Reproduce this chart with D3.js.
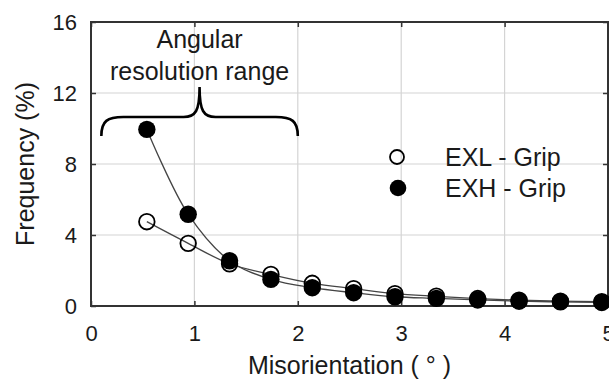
<!DOCTYPE html>
<html>
<head>
<meta charset="utf-8">
<script src="https://cdn.jsdelivr.net/npm/d3@7"></script>
<style>
  html, body { margin: 0; padding: 0; background: #fff; }
  svg { display: block; }
  text { font-family: "Liberation Sans", Arial, sans-serif; fill: #1a1a1a; }
</style>
</head>
<body>
<svg id="chart" width="609" height="383"></svg>
<script>
// ---- data ----
const misorientation = [0.54, 0.94, 1.34, 1.74, 2.14, 2.54, 2.94, 3.34, 3.74, 4.14, 4.54, 4.94];
const exlGrip = [4.75, 3.53, 2.38, 1.78, 1.28, 0.98, 0.70, 0.55, 0.42, 0.33, 0.27, 0.24];
const exhGrip = [9.95, 5.17, 2.55, 1.50, 1.03, 0.75, 0.52, 0.43, 0.34, 0.27, 0.23, 0.20];
const xTicks = [0, 1, 2, 3, 4, 5];
const yTicks = [0, 4, 8, 12, 16];
const seriesNames = ["EXL - Grip", "EXH - Grip"];
const xTitle = "Misorientation ( ° )";
const yTitle = "Frequency (%)";
const annotation = ["Angular", "resolution range"];
const bracketRange = [0.1, 2.0];

// ---- layout ----
const svg = d3.select("#chart");
const L = 91, R = 608, T = 22, B = 306;
const x = d3.scaleLinear().domain([0, 5]).range([L, R]);
const y = d3.scaleLinear().domain([0, 16]).range([B, T]);

// grid
svg.append("g").selectAll("line").data(xTicks.slice(1, -1)).join("line")
  .attr("x1", d => x(d)).attr("x2", d => x(d)).attr("y1", T).attr("y2", B)
  .attr("stroke", "#d4d4d4").attr("stroke-width", 1.2);
svg.append("g").selectAll("line").data(yTicks.slice(1, -1)).join("line")
  .attr("y1", d => y(d)).attr("y2", d => y(d)).attr("x1", L).attr("x2", R)
  .attr("stroke", "#d4d4d4").attr("stroke-width", 1.2);

// axes with inward ticks
const axisColor = "#333";
function styleAxis(g) {
  g.select(".domain").remove();
  g.selectAll(".tick line").attr("stroke", axisColor).attr("stroke-width", 1.5);
}
svg.append("g").attr("transform", `translate(0,${B})`)
  .call(d3.axisBottom(x).tickValues(xTicks).tickSize(-5).tickPadding(19).tickFormat(d3.format("d")))
  .call(styleAxis)
  .call(g => g.selectAll("text").attr("font-size", 22).attr("dy", "0.71em").attr("fill", "#1a1a1a")
     .attr("font-family", "Liberation Sans, Arial, sans-serif"));
svg.append("g").attr("transform", `translate(0,${T})`)
  .call(d3.axisTop(x).tickValues(xTicks).tickSize(-5).tickFormat(""))
  .call(styleAxis);
svg.append("g").attr("transform", `translate(${L},0)`)
  .call(d3.axisLeft(y).tickValues(yTicks).tickSize(-5).tickPadding(14).tickFormat(d3.format("d")))
  .call(styleAxis)
  .call(g => g.selectAll("text").attr("font-size", 22).attr("fill", "#1a1a1a")
     .attr("font-family", "Liberation Sans, Arial, sans-serif"));
svg.append("g").attr("transform", `translate(${R},0)`)
  .call(d3.axisRight(y).tickValues(yTicks).tickSize(-5).tickFormat(""))
  .call(styleAxis);

// frame
svg.append("rect").attr("x", L).attr("y", T).attr("width", R - L).attr("height", B - T)
  .attr("fill", "none").attr("stroke", axisColor).attr("stroke-width", 2);

// axis titles
svg.append("text").attr("x", (L + R) / 2).attr("y", 374).attr("text-anchor", "middle")
  .attr("font-size", 25).text(xTitle);
svg.append("text").attr("transform", `translate(34,${(T + B) / 2}) rotate(-90)`)
  .attr("text-anchor", "middle").attr("font-size", 25).text(yTitle);

// lines
const line = d3.line().x(d => x(d[0])).y(d => y(d[1])).curve(d3.curveCatmullRom.alpha(0.5));
const exl = misorientation.map((m, i) => [m, exlGrip[i]]);
const exh = misorientation.map((m, i) => [m, exhGrip[i]]);
[exl, exh].forEach(s => svg.append("path").datum(s).attr("d", line)
  .attr("fill", "none").attr("stroke", "#444").attr("stroke-width", 1.3));

// markers
svg.append("g").selectAll("circle").data(exl).join("circle")
  .attr("cx", d => x(d[0])).attr("cy", d => y(d[1])).attr("r", 7.8)
  .attr("fill", "none").attr("stroke", "#000").attr("stroke-width", 1.8);
svg.append("g").selectAll("circle").data(exh).join("circle")
  .attr("cx", d => x(d[0])).attr("cy", d => y(d[1])).attr("r", 8.7)
  .attr("fill", "#000");

// legend
const lg = svg.append("g");
lg.append("circle").attr("cx", 397).attr("cy", 157).attr("r", 7)
  .attr("fill", "none").attr("stroke", "#000").attr("stroke-width", 1.8);
lg.append("circle").attr("cx", 398).attr("cy", 188).attr("r", 8.3).attr("fill", "#000");
lg.append("text").attr("x", 445).attr("y", 157).attr("dy", "0.35em").attr("font-size", 25).text(seriesNames[0]);
lg.append("text").attr("x", 445).attr("y", 188).attr("dy", "0.35em").attr("font-size", 25).text(seriesNames[1]);

// bracket annotation
const bx0 = x(bracketRange[0]), bx1 = x(bracketRange[1]), bm = (bx0 + bx1) / 2;
const yEnd = 136, yH = 117, yTip = 87;
const p = d3.path();
p.moveTo(bx0, yEnd);
p.bezierCurveTo(bx0, yH + 4, bx0 + 6, yH, bx0 + 22, yH);
p.lineTo(bm - 16, yH);
p.bezierCurveTo(bm - 4, yH, bm, yH - 6, bm, yTip);
p.moveTo(bx1, yEnd);
p.bezierCurveTo(bx1, yH + 4, bx1 - 6, yH, bx1 - 22, yH);
p.lineTo(bm + 16, yH);
p.bezierCurveTo(bm + 4, yH, bm, yH - 6, bm, yTip);
svg.append("path").attr("d", p.toString()).attr("fill", "none")
  .attr("stroke", "#000").attr("stroke-width", 2.6);
svg.append("text").attr("x", bm).attr("y", 48).attr("text-anchor", "middle")
  .attr("font-size", 25).text(annotation[0]);
svg.append("text").attr("x", bm).attr("y", 80).attr("text-anchor", "middle")
  .attr("font-size", 25).text(annotation[1]);
</script>
</body>
</html>
